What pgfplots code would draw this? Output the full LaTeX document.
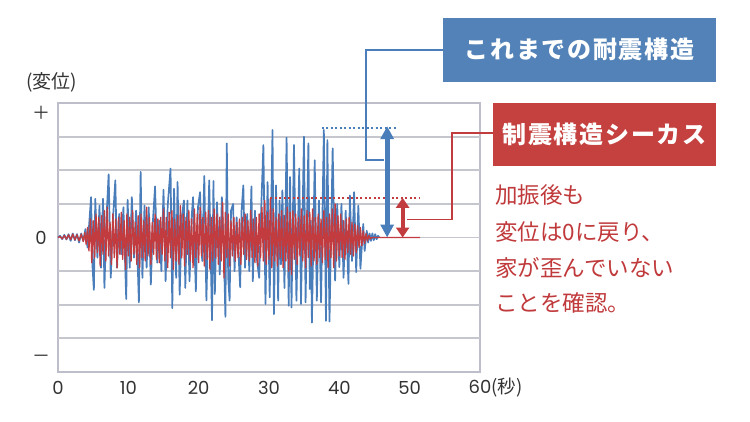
\documentclass[border=0pt]{standalone}
\usepackage{fontspec}
\setmainfont{Noto Sans CJK JP}
\newfontfamily\jp{Noto Sans CJK JP}
\newfontfamily\dig{Poppins}
\newfontfamily\jpb{Noto Sans CJK JP}[LetterSpace=7]
\usepackage{pgfplots}
\pgfplotsset{compat=1.18}
\usetikzlibrary{arrows.meta}
\definecolor{bluec}{HTML}{4A7EBB}
\definecolor{redc}{HTML}{C23B3F}
\definecolor{boxblue}{HTML}{5282B7}
\definecolor{boxred}{HTML}{C4413F}
\definecolor{textred}{HTML}{C0393B}
\definecolor{gridc}{HTML}{C6C6CF}
\definecolor{framec}{HTML}{BEBECA}
\definecolor{labelc}{HTML}{333333}
\begin{document}
\begin{tikzpicture}[x=1pt,y=1pt]
\path[use as bounding box] (0,0) rectangle (750,421);
\begin{axis}[at={(58pt,49pt)}, anchor=south west, scale only axis,
  width=422pt, height=269pt, xmin=0, xmax=60, ymin=-4, ymax=4,
  axis line style={draw=framec, line width=2.6pt},
  xtick={0,10,20,30,40,50,60},
  xticklabels={0,10,20,30,40,50,{60\rlap{\jp\fontsize{18.5}{20}\selectfont (秒)}}},
  ytick={-3.6,0,3.7}, yticklabels={{\jp －},0,{\jp ＋}},
  major tick length=0pt, tick style={draw=none},
  ticklabel style={font=\dig\fontsize{18}{20}\selectfont, text=labelc, inner sep=0pt},
  xticklabel style={anchor=center, yshift=-16pt},
  yticklabel style={anchor=center, xshift=-17pt},
  extra y ticks={-3,-2,-1,0,1,2,3}, extra y tick labels={},
  extra y tick style={ymajorgrids=true, major grid style={draw=gridc, line width=1.8pt}},
  clip=false]
\addplot[bluec, line width=1.7pt, line join=round, no markers] coordinates {
(0,0) (0.3,0.05) (0.6,-0.05) (0.9,0.08) (1.2,-0.06) (1.5,0.1) (1.8,-0.1) (2.1,0.12) (2.4,-0.08) (2.7,0.1)
(3.0,-0.15) (3.3,0.12) (3.6,-0.1) (3.9,0.25) (4.2,-0.3) (4.5,0.6) (4.7,1.2) (4.9,-0.84) (5.1,-1.56) (5.3,1.15)
(5.6,-0.6) (5.9,0.95) (6.1,-0.9) (6.4,1.15) (6.6,-1.5) (6.9,0.6) (7.2,1.88) (7.5,-1.2) (7.8,0.5) (8.15,1.7)
(8.4,-0.9) (8.7,0.7) (9.0,-0.5) (9.3,0.9) (9.7,-1.83) (9.9,1.12) (10.2,-0.9) (10.5,1.2) (10.8,-0.6) (11.1,0.8)
(11.5,-1.93) (11.75,1.95) (12.0,-1.2) (12.3,0.95) (12.6,-0.9) (12.9,0.9) (13.2,-1.4) (13.5,0.5) (13.8,1.52) (14.1,-0.75)
(14.4,0.5) (14.7,-1.0) (15.0,1.42) (15.3,-1.3) (15.6,0.95) (16.0,2.05) (16.25,-2.1) (16.5,1.45) (16.8,-1.2) (17.0,1.65)
(17.3,-1.7) (17.6,0.6) (17.9,1.1) (18.1,-1.5) (18.4,1.1) (18.7,-1.3) (19.0,0.6) (19.2,1.2) (19.6,-1.6) (19.9,0.9)
(20.2,1.35) (20.5,-0.7) (20.8,1.83) (21.1,-1.87) (21.5,1.7) (21.9,-2.46) (22.1,1.68) (22.3,-1.68) (22.6,1.05) (23.0,-1.1)
(23.3,1.2) (23.6,-0.5) (23.8,-2.36) (24.0,2.8) (24.2,-1.2) (24.4,-1.88) (24.6,0.8) (24.9,1.0) (25.1,-1.0) (25.4,0.6)
(25.9,-1.48) (26.1,0.8) (26.35,1.55) (26.6,-0.9) (26.9,0.7) (27.2,-1.0) (27.5,1.52) (27.7,-1.3) (28.0,0.8) (28.2,-0.5)
(28.6,-1.2) (28.9,0.9) (29.2,2.75) (29.5,-1.98) (29.8,1.65) (30.1,-1.78) (30.5,3.2) (30.7,-2.28) (31.0,1.55) (31.3,-1.88)
(31.5,1.1) (31.7,-0.8) (31.9,1.4) (32.2,-1.5) (32.5,2.97) (32.8,-2.03) (33.0,1.8) (33.2,-2.08) (33.55,2.75) (33.9,-1.88)
(34.3,2.05) (34.55,-1.98) (34.97,3.0) (35.2,-1.93) (35.6,2.8) (35.8,-1.53) (35.95,0.5) (36.1,-2.53) (36.5,2.3) (36.8,-1.88)
(37.1,1.1) (37.4,-1.93) (37.8,3.2) (38.1,-2.48) (38.3,2.9) (38.6,-2.5) (39.05,2.65) (39.4,-1.28) (39.7,1.0) (40.0,-0.88)
(40.3,1.0) (40.6,-1.2) (40.9,0.8) (41.3,-1.38) (41.5,1.25) (41.8,-0.7) (42.1,1.35) (42.4,-1.03) (42.7,0.95) (43.0,-0.93)
(43.4,0.4) (43.6,-0.4) (43.9,0.2) (44.1,-0.15) (44.3,0.12) (44.5,-0.1) (44.7,0.12) (44.9,-0.08) (45.1,0.1) (45.3,-0.05)
(45.5,0.05) (45.7,0)
};
\addplot[redc, line width=1.3pt, line join=round, no markers] coordinates {
(0,0) (0.3,0.03) (0.6,-0.04) (0.9,0.06) (1.2,-0.05) (1.5,0.08) (1.8,-0.06) (2.1,0.1) (2.4,-0.07) (2.7,0.08)
(3.0,-0.1) (3.3,0.1) (3.6,-0.12) (3.8,0.15) (4.0,-0.2) (4.2,0.3) (4.4,-0.4) (4.6,0.55) (4.8,-0.75) (5.0,0.5)
(5.2,-0.6) (5.4,0.7) (5.6,-0.45) (5.8,0.6) (6.0,-0.85) (6.2,0.65) (6.4,-0.5) (6.6,0.8) (6.8,-0.7) (7.0,0.9)
(7.2,-0.55) (7.4,0.45) (7.6,-0.8) (7.8,0.7) (8.0,-0.6) (8.2,0.55) (8.4,-0.9) (8.6,0.6) (8.8,-0.5) (9.0,0.75)
(9.2,-0.65) (9.4,0.5) (9.6,-0.95) (9.8,0.7) (10.0,-0.55) (10.2,0.6) (10.4,-0.7) (10.6,0.8) (10.8,-0.5) (11.0,0.45)
(11.2,-0.8) (11.4,0.65) (11.6,-0.9) (11.8,0.7) (12.0,-0.6) (12.2,0.5) (12.4,-0.7) (12.6,0.9) (12.8,-0.55) (13.0,0.6)
(13.2,-0.8) (13.4,0.45) (13.6,-0.5) (13.8,0.7) (14.0,-0.65) (14.2,0.55) (14.4,-0.75) (14.6,0.6) (14.8,-0.5) (15.0,0.85)
(15.2,-0.7) (15.4,0.6) (15.6,-0.9) (15.8,0.75) (16.0,-0.6) (16.2,0.8) (16.4,-0.95) (16.6,0.55) (16.8,-0.7) (17.0,0.65)
(17.2,-0.8) (17.4,0.95) (17.6,-0.6) (17.8,0.7) (18.0,-0.85) (18.2,0.6) (18.4,-0.5) (18.6,0.8) (18.8,-0.7) (19.0,0.55)
(19.2,-0.9) (19.4,0.85) (19.6,-0.6) (19.8,0.7) (20.0,-0.75) (20.2,0.9) (20.4,-0.55) (20.6,0.6) (20.8,-0.85) (21.0,0.75)
(21.2,-0.65) (21.4,0.8) (21.6,-0.95) (21.8,0.6) (22.0,-0.7) (22.2,0.85) (22.4,-0.6) (22.6,0.7) (22.8,-0.8) (23.0,0.6)
(23.2,-0.7) (23.4,1.05) (23.6,-1.2) (23.8,0.75) (24.0,-0.6) (24.2,0.7) (24.4,-0.85) (24.6,0.5) (24.8,-0.55) (25.0,0.6)
(25.2,-0.7) (25.4,0.45) (25.6,-0.6) (25.8,0.55) (26.0,-0.8) (26.2,0.6) (26.4,-0.5) (26.6,0.7) (26.8,-0.65) (27.0,0.5)
(27.2,-0.7) (27.4,0.8) (27.6,-0.6) (27.8,0.55) (28.0,-0.75) (28.2,0.6) (28.4,-0.85) (28.6,0.7) (28.8,-0.6) (29.0,0.9)
(29.2,-0.7) (29.4,1.1) (29.6,-0.8) (29.8,0.75) (30.0,-0.65) (30.2,1.16) (30.4,-0.9) (30.6,0.85) (30.8,-0.7) (31.0,0.6)
(31.2,-0.85) (31.4,0.7) (31.6,-0.6) (31.8,0.8) (32.0,-0.9) (32.2,0.65) (32.4,-0.7) (32.6,0.9) (32.8,-1.0) (33.0,0.75)
(33.2,-1.1) (33.4,0.8) (33.6,-0.65) (33.8,0.7) (34.0,-0.8) (34.2,0.6) (34.4,-0.55) (34.6,0.85) (34.8,-0.7) (35.0,0.65)
(35.2,-0.9) (35.4,0.8) (35.6,-0.6) (35.8,0.75) (36.0,-0.85) (36.2,0.85) (36.4,-0.7) (36.6,0.6) (36.8,-0.8) (37.0,0.7)
(37.2,-0.6) (37.4,0.55) (37.6,-0.75) (37.8,0.8) (38.0,-0.65) (38.2,0.6) (38.4,-0.9) (38.6,0.7) (38.8,-0.6) (39.0,0.85)
(39.2,-0.9) (39.4,1.0) (39.6,-0.7) (39.8,0.65) (40.0,-0.55) (40.2,0.7) (40.4,-0.6) (40.6,0.5) (40.8,-0.65) (41.0,0.55)
(41.2,-0.45) (41.4,0.6) (41.6,-0.5) (41.8,0.45) (42.0,-0.55) (42.2,0.4) (42.4,-0.45) (42.6,0.35) (42.8,-0.3) (43.0,0.3)
(43.2,-0.25) (43.4,0.2) (43.6,-0.18) (43.8,0.12) (44.0,-0.1) (44.2,0.06) (44.4,-0.04) (44.6,0) (51.5,0)
};
\draw[bluec, line width=2pt, dash pattern=on 2pt off 2.5pt] (axis cs:37.5,3.27) -- (axis cs:48.3,3.27);
\draw[redc, line width=2pt, dash pattern=on 2pt off 2.5pt] (axis cs:30.2,1.17) -- (axis cs:51.5,1.17);
\draw[bluec, line width=5pt, {Triangle[width=13pt,length=13pt]}-{Triangle[width=13pt,length=13pt]}] (axis cs:46.8,0) -- (axis cs:46.8,3.31);
\draw[redc, line width=4pt, {Triangle[width=13pt,length=10pt]}-{Triangle[width=13pt,length=10pt]}] (axis cs:49.0,0) -- (axis cs:49.0,1.18);
\end{axis}
% label of the value axis
\node[anchor=west, inner sep=0pt, font=\jp\fontsize{19}{20}\selectfont, text=labelc] at (26,339) {(変位)};
% connectors
\draw[bluec, line width=1.3pt] (444,371) -- (366,371) -- (366,261) -- (384,261);
\draw[redc, line width=1.3pt] (494,288) -- (452,288) -- (452,201.7) -- (407,201.7);
% boxes
\fill[boxblue] (443,339) rectangle (716,403);
\fill[boxred] (493,255) rectangle (716,318);
\node[anchor=base, inner sep=0pt, text=white, font=\jpb\bfseries\fontsize{24}{26}\selectfont] at (579.5,362) {これまでの耐震構造};
\node[anchor=base, inner sep=0pt, text=white, font=\jpb\bfseries\fontsize{24}{26}\selectfont] at (604.5,277) {制震構造シーカス};
% remark
\begin{scope}[every node/.style={anchor=base west, inner sep=0pt, text=textred, font=\jp\fontsize{22.5}{24}\selectfont}]
\node at (495,217.5) {加振後も};
\node at (495,180.5) {変位は0に戻り、};
\node at (495,144.5) {家が歪んでいない};
\node at (495,109.5) {ことを確認。};
\end{scope}
\end{tikzpicture}
\end{document}
